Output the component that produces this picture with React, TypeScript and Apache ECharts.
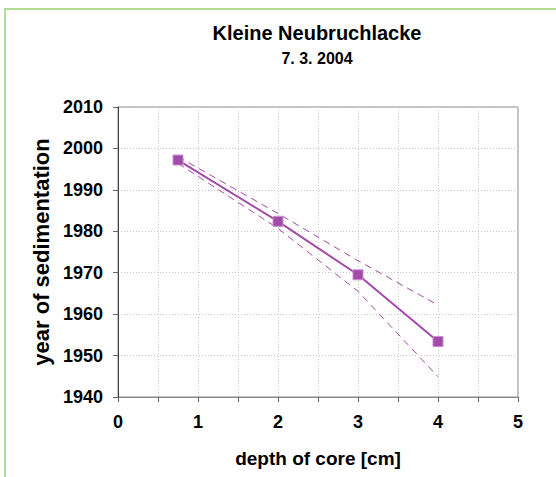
import React, { useEffect, useRef } from "react";
import * as echarts from "echarts";

const depths = [0.75, 2, 3, 4];
const years = [1997.2, 1982.4, 1969.5, 1953.4];
const upperBound = [1998.0, 1984.3, 1972.9, 1962.2];
const lowerBound = [1996.4, 1980.7, 1965.5, 1944.9];
const xTicks = [0, 1, 2, 3, 4, 5];
const yTicks = [1940, 1950, 1960, 1970, 1980, 1990, 2000, 2010];

const purple = "#a24aa8";
const font = "'Liberation Sans', Arial, sans-serif";

export default function App() {
  const ref = useRef<HTMLDivElement>(null);
  useEffect(() => {
    if (!ref.current) return;
    const chart = echarts.init(ref.current, null, { renderer: "svg" });
    const pts = (ys: number[]) => depths.map((d, i) => [d, ys[i]]);
    chart.setOption({
      animation: false,
      backgroundColor: "#ffffff",
      textStyle: { fontFamily: font },
      grid: {
        left: 118,
        top: 107,
        width: 400,
        height: 290,
        show: true,
        borderColor: "#888888",
        borderWidth: 1,
        backgroundColor: "transparent",
      },
      xAxis: {
        type: "value",
        min: xTicks[0],
        max: xTicks[xTicks.length - 1],
        interval: 1,
        name: "depth of core [cm]",
        nameLocation: "middle",
        nameGap: 52,
        nameTextStyle: { fontSize: 19, fontWeight: "bold", color: "#000", fontFamily: font },
        axisLine: { show: true, lineStyle: { color: "#888888", width: 1 } },
        axisTick: { show: true, length: 5, lineStyle: { color: "#666" } },
        minorTick: { show: true, splitNumber: 2, length: 5, lineStyle: { color: "#666" } },
        axisLabel: {
          fontSize: 18,
          fontWeight: "bold",
          color: "#000",
          margin: 16,
          fontFamily: font,
          formatter: (v: number) => String(v),
        },
        splitLine: { show: true, lineStyle: { color: "#c8c8c8", type: [1, 2], width: 1 } },
        minorSplitLine: { show: true, lineStyle: { color: "#c8c8c8", type: [1, 2], width: 1 } },
      },
      yAxis: {
        type: "value",
        min: yTicks[0],
        max: yTicks[yTicks.length - 1],
        interval: 10,
        name: "year of sedimentation",
        nameLocation: "middle",
        nameGap: 66,
        nameTextStyle: { fontSize: 22, fontWeight: "bold", color: "#000", fontFamily: font },
        axisLine: { show: true, lineStyle: { color: "#444444", width: 1 } },
        axisTick: { show: true, length: 5, lineStyle: { color: "#666" } },
        axisLabel: {
          fontSize: 18,
          fontWeight: "bold",
          color: "#000",
          margin: 15,
          fontFamily: font,
          formatter: (v: number) => String(v),
        },
        splitLine: { show: true, lineStyle: { color: "#c8c8c8", type: [1, 2], width: 1 } },
      },
      graphic: [
        {
          type: "rect",
          shape: { x: 5, y: 9, width: 700, height: 700 },
          style: { fill: "none", stroke: "#b2dc94", lineWidth: 2 },
          silent: true,
        },
        {
          type: "text",
          x: 317,
          y: 33,
          style: {
            text: "Kleine Neubruchlacke",
            fill: "#000",
            font: `bold 20px ${font}`,
            textAlign: "center",
            textVerticalAlign: "middle",
          },
        },
        {
          type: "text",
          x: 317,
          y: 58,
          style: {
            text: "7. 3. 2004",
            fill: "#000",
            font: `bold 16px ${font}`,
            textAlign: "center",
            textVerticalAlign: "middle",
          },
        },
      ],
      series: [
        {
          type: "line",
          data: pts(upperBound),
          symbol: "none",
          lineStyle: { color: purple, width: 1, type: [7, 5] },
          z: 2,
        },
        {
          type: "line",
          data: pts(lowerBound),
          symbol: "none",
          lineStyle: { color: purple, width: 1, type: [7, 5] },
          z: 2,
        },
        {
          type: "line",
          data: pts(years),
          symbol: "rect",
          symbolSize: 10,
          itemStyle: { color: purple, borderColor: "#c98fce", borderWidth: 1 },
          lineStyle: { color: purple, width: 2 },
          z: 3,
        },
      ],
    });
    return () => chart.dispose();
  }, []);
  return (
    <div
      ref={ref}
      style={{ position: "absolute", left: 0, top: 0, width: 556, height: 477 }}
    />
  );
}
